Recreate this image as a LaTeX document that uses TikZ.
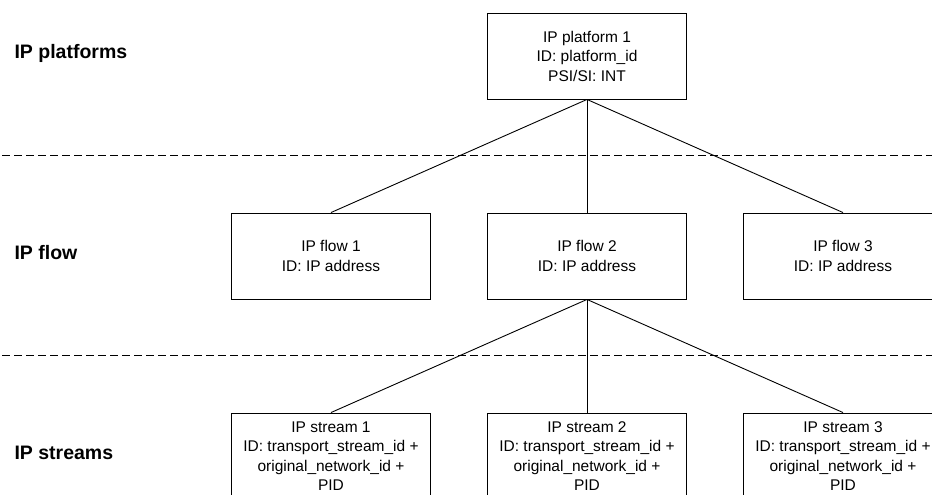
\documentclass[tikz,border=0pt]{standalone}
\usepackage{fontspec}
\setmainfont{Liberation Sans}
\tikzset{
  box/.style={draw=black,line width=0.9pt,rectangle,minimum width=199pt,minimum height=86pt,inner sep=0pt,align=center,font=\fontsize{15.5}{19.5}\selectfont},
  layer/.style={anchor=west,font=\fontsize{19.5}{22}\selectfont\bfseries},
  sep/.style={draw=black,line width=0.8pt,dash pattern=on 8pt off 4pt},
  link/.style={draw=black,line width=0.9pt}
}
\begin{document}
\begin{tikzpicture}[x=1pt,y=-1pt]
    \useasboundingbox (0,0) rectangle (932,495);
    \clip (0,0) rectangle (932,495);
    \node[layer] (LP) at (11,53) {IP platforms};
    \node[layer] (LF) at (11,253) {IP flow};
    \node[layer] (LS) at (11,453) {IP streams};
    \draw[sep] (2,155.7) -- (932,155.7);
    \draw[sep] (2,355.7) -- (932,355.7);
    \node[box] (P) at (587,56) {IP platform 1\\ID: platform\_id\\PSI/SI: INT};
    \node[box] (F1) at (331,256) {IP flow 1\\ID: IP address};
    \node[box] (F2) at (587,256) {IP flow 2\\ID: IP address};
    \node[box] (F3) at (843,256) {IP flow 3\\ID: IP address};
    \draw[link] (P.south) -- (F1.north);
    \draw[link] (P.south) -- (F2.north);
    \draw[link] (P.south) -- (F3.north);
    \node[box] (S1) at (331,456) {IP stream 1\\ID: transport\_stream\_id +\\original\_network\_id +\\PID};
    \node[box] (S2) at (587,456) {IP stream 2\\ID: transport\_stream\_id +\\original\_network\_id +\\PID};
    \node[box] (S3) at (843,456) {IP stream 3\\ID: transport\_stream\_id +\\original\_network\_id +\\PID};
    \draw[link] (F2.south) -- (S1.north);
    \draw[link] (F2.south) -- (S2.north);
    \draw[link] (F2.south) -- (S3.north);
\end{tikzpicture}
\end{document}
